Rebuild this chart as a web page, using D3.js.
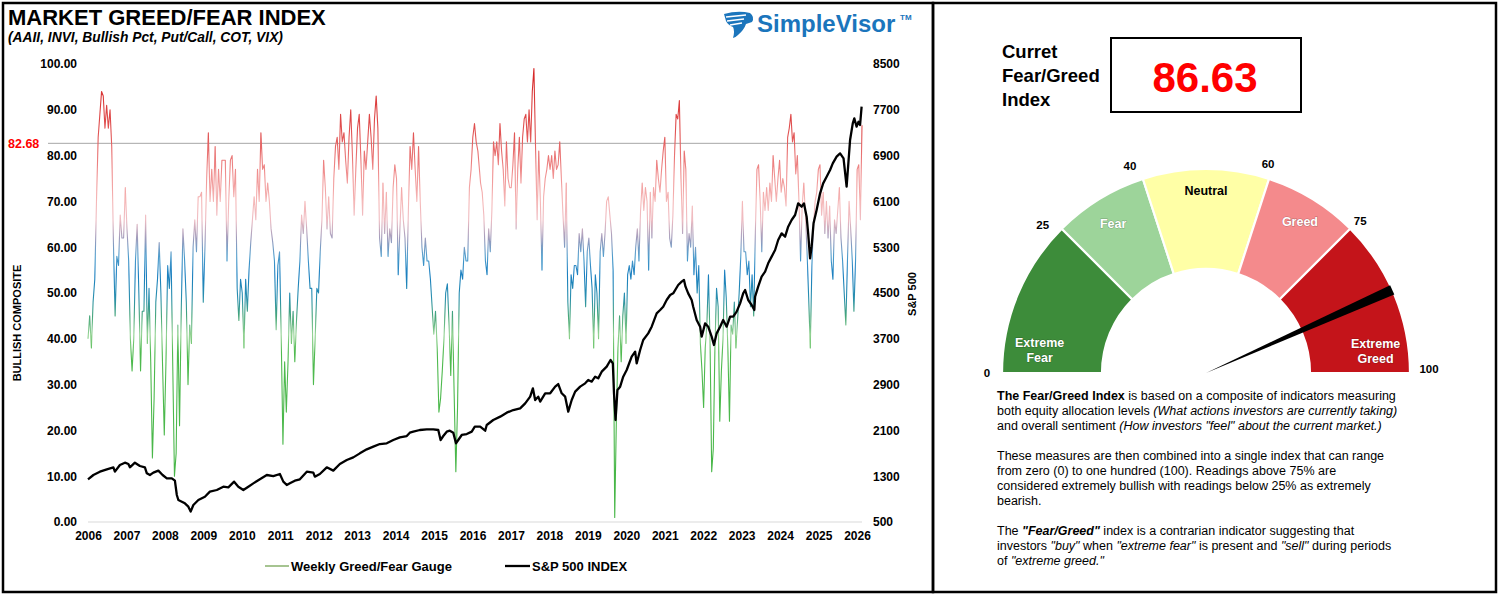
<!DOCTYPE html>
<html><head><meta charset="utf-8">
<script src="https://cdn.jsdelivr.net/npm/d3@7"></script>
<style>
html,body{margin:0;padding:0;background:#fff;}
svg{display:block;font-family:Arial,"Liberation Sans",sans-serif;}
</style></head><body>
<svg id="c" width="1499" height="599"></svg>
<script>
// ---------------- DATA ----------------
const yearLabels = [2006,2007,2008,2009,2010,2011,2012,2013,2014,2015,2016,2017,2018,2019,2020,2021,2022,2023,2024,2025,2026];
const leftTicks = [0,10,20,30,40,50,60,70,80,90,100];
const rightTicks = [500,1300,2100,2900,3700,4500,5300,6100,6900,7700,8500];

// Weekly Greed/Fear gauge readings (sampled), first half 2006 -> early 2016
const gaugeEarlyRange = [2006.0, 2016.14];
const gaugeEarly = [40,45,38,48,53,70,84,89,94,93,86,91,86,90,82,61,45,58,56,67,62,62,73,64,57,40,33,40,57,65,50,33,46,46,67,39,51,35,14,27,48,53,61,50,34,19,35,56,51,59,34,10,15,43,21,46,64,57,48,30,43,39,60,66,59,71,71,72,48,60,75,85,70,77,70,82,67,77,70,79,79,79,57,70,79,80,71,77,51,44,53,50,38,53,46,55,61,66,71,66,77,70,85,77,78,70,74,70,64,61,57,42,56,59,40,17,35,24,35,50,39,46,35,44,51,57,67,63,70,64,57,51,51,30,40,51,50,59,66,79,73,64,71,63,62,75,82,84,77,89,83,85,79,74,84,90,80,67,77,86,89,79,67,81,77,83,89,84,77,88,93,86,62,58,74,63,72,58,64,61,73,78,75,54,64,73,66,62,51,68,82,77,85,77,70,82,70,60,56,62,57,57,53,47,41,46,38,24,27,33,40,50,52,43,32,46,28,11,25,50,55,53,60,57,57,73,77,84,87,83,81];
// second half early 2016 -> 2026
const gaugeLateRange = [2016.21, 2026.13];
const gaugeLate = [74,72,67,57,54,64,59,68,83,80,83,78,87,81,77,69,83,75,73,73,78,85,64,77,84,74,84,88,89,83,90,83,94,99,82,66,81,70,55,71,75,77,80,77,80,75,81,77,78,83,75,67,60,74,48,40,54,51,56,56,54,63,59,64,57,47,59,62,56,51,38,54,50,40,59,63,58,63,70,71,67,63,55,1,22,38,45,35,45,50,39,54,56,53,57,54,60,64,57,68,74,68,73,70,55,72,62,73,70,79,75,72,77,81,84,70,72,62,60,67,80,89,88,92,75,63,81,77,57,63,60,69,54,60,50,56,39,33,25,38,43,54,39,11,16,38,51,47,22,33,40,55,49,38,22,43,41,48,38,44,50,58,70,59,59,54,57,47,54,45,63,77,78,70,59,72,68,73,68,74,70,80,75,70,75,79,72,75,73,69,84,86,89,83,85,76,80,70,57,69,74,67,59,49,38,56,65,70,72,77,78,67,72,63,70,62,69,57,53,66,63,68,73,62,57,50,43,57,70,64,57,46,57,77,78,66,86.63];

const spxDates = [2006.00,2006.14,2006.31,2006.49,2006.66,2006.70,2006.83,2006.96,2007.05,2007.09,2007.22,2007.35,2007.48,2007.53,2007.61,2007.70,2007.83,2007.94,2008.05,2008.18,2008.26,2008.31,2008.35,2008.44,2008.52,2008.61,2008.67,2008.74,2008.87,2009.04,2009.17,2009.35,2009.52,2009.65,2009.80,2009.91,2010.04,2010.17,2010.30,2010.47,2010.65,2010.82,2010.99,2011.08,2011.17,2011.25,2011.38,2011.51,2011.69,2011.86,2011.90,2012.03,2012.21,2012.38,2012.55,2012.73,2012.90,2013.07,2013.25,2013.42,2013.59,2013.77,2013.94,2014.11,2014.29,2014.37,2014.46,2014.63,2014.81,2014.98,2015.11,2015.17,2015.24,2015.33,2015.41,2015.50,2015.57,2015.63,2015.72,2015.85,2015.98,2016.06,2016.15,
2016.20,2016.33,2016.37,2016.54,2016.72,2016.89,2017.06,2017.24,2017.37,2017.50,2017.57,2017.63,2017.71,2017.76,2017.89,2018.02,2018.15,2018.23,2018.32,2018.41,2018.49,2018.58,2018.67,2018.80,2018.93,2019.01,2019.10,2019.19,2019.27,2019.36,2019.49,2019.59,2019.65,2019.68,2019.72,2019.77,2019.84,2019.92,2020.01,2020.14,2020.23,2020.27,2020.36,2020.44,2020.57,2020.66,2020.79,2020.88,2020.96,2021.05,2021.14,2021.22,2021.35,2021.44,2021.50,2021.54,2021.61,2021.70,2021.74,2021.83,2021.92,2021.96,2022.05,2022.13,2022.22,2022.28,2022.35,2022.44,2022.52,2022.61,2022.70,2022.78,2022.87,2022.96,2023.04,2023.09,2023.17,2023.26,2023.33,2023.35,2023.43,2023.52,2023.61,2023.69,2023.78,2023.87,2023.95,2024.04,2024.13,2024.21,2024.30,2024.39,2024.47,2024.56,2024.62,2024.69,2024.73,2024.78,2024.82,2024.87,2024.95,2025.04,2025.12,2025.21,2025.30,2025.37,2025.47,2025.56,2025.65,2025.73,2025.82,2025.89,2025.93,2025.99,2026.04,2026.08,2026.12];
const spxValues = [1245,1321,1379,1420,1455,1379,1496,1536,1513,1455,1536,1478,1455,1350,1321,1362,1397,1321,1263,1263,1222,972,884,855,826,768,681,797,884,942,1030,1059,1117,1106,1205,1117,1059,1117,1175,1245,1321,1303,1338,1205,1146,1175,1222,1245,1379,1362,1292,1338,1455,1397,1513,1583,1629,1699,1769,1816,1862,1874,1932,1979,2002,2060,2078,2107,2119,2119,2107,1932,2002,2078,2095,2060,1874,1932,2020,2037,2078,2165,2165,
2165,2095,2194,2282,2340,2410,2456,2485,2573,2689,2835,2631,2689,2602,2748,2748,2864,2910,2748,2689,2427,2631,2777,2864,2922,2980,2951,3038,3009,3126,3213,3330,3271,2748,2282,2806,2864,3038,3155,3388,3475,3271,3504,3679,3795,3912,4145,4203,4261,4378,4465,4494,4640,4698,4727,4611,4494,4378,4261,4028,3912,3737,3970,3912,3737,3592,3795,3912,4028,3912,4086,4086,4174,4319,4494,4552,4378,4290,4203,4436,4611,4785,4873,5018,5135,5251,5426,5542,5484,5658,5775,5862,6066,6008,6066,5833,5542,5105,5309,5717,5950,6241,6415,6532,6648,6765,6881,6939,6852,6357,7172,7463,7550,7405,7492,7434,7754];

const thresholdReading = 82.68;
const currentReading = 86.63;
const zoneBounds = [0,25,40,60,75,100];
const zoneNames = [["Extreme","Fear"],["Fear"],["Neutral"],["Greed"],["Extreme","Greed"]];

// ---------------- LAYOUT / STYLE ----------------
const svg = d3.select("#c");
const FONT = 'Arial,"Liberation Sans",sans-serif';

// panels
svg.append("rect").attr("x",3).attr("y",3).attr("width",930).attr("height",589)
  .attr("fill","none").attr("stroke","#000").attr("stroke-width",2.5);
svg.append("rect").attr("x",933).attr("y",3).attr("width",563).attr("height",589)
  .attr("fill","none").attr("stroke","#000").attr("stroke-width",2.5);

// title
svg.append("text").attr("x",8).attr("y",25).attr("font-size",22).attr("font-weight","bold")
  .text("MARKET GREED/FEAR INDEX");
svg.append("text").attr("x",8).attr("y",42).attr("font-size",13.8).attr("font-weight","bold")
  .attr("font-style","italic").text("(AAII, INVI, Bullish Pct, Put/Call, COT, VIX)");

// logo
const logo = svg.append("g");
logo.append("path").attr("fill","#1b75bc")
  .attr("d","M724,14 Q738,10 750,13 Q755,17 752,22 L746,24 Q744,30 738,35 Q735,38 733,38 Q735,31 733,27 Q728,25 726,21 Z");
[[726,17,746,15],[727,21,744,19],[730,25,742,23]].forEach(l=>{
  logo.append("line").attr("x1",l[0]).attr("y1",l[1]).attr("x2",l[2]).attr("y2",l[3])
    .attr("stroke","#fff").attr("stroke-width",1.3);
});
logo.append("text").attr("x",757).attr("y",32).attr("font-size",24).attr("font-weight","bold")
  .attr("fill","#1b75bc").text("SimpleVisor");
logo.append("text").attr("x",900).attr("y",20).attr("font-size",8).attr("font-weight","bold")
  .attr("fill","#1b75bc").text("TM");

// scales
const x = d3.scaleLinear().domain([2006,2026]).range([88,857]);
const y = d3.scaleLinear().domain([0,100]).range([522,64]);
const y2 = d3.scaleLinear().domain([500,8500]).range([522,64]);
const plotRight = x(2026.13);

// baseline
svg.append("line").attr("x1",88).attr("x2",plotRight).attr("y1",y(0)).attr("y2",y(0))
  .attr("stroke","#d9d9d9").attr("stroke-width",1.2);

// axes
function styleAxis(g){
  g.select(".domain").remove();
  g.selectAll("text").attr("font-family",FONT).attr("font-size",12).attr("font-weight","bold").attr("fill","#000");
}
svg.append("g").attr("transform","translate(88,0)")
  .call(d3.axisLeft(y).tickValues(leftTicks).tickFormat(d3.format(".2f")).tickSize(0).tickPadding(11))
  .call(styleAxis);
svg.append("g").attr("transform",`translate(${plotRight},0)`)
  .call(d3.axisRight(y2).tickValues(rightTicks).tickFormat(d3.format("d")).tickSize(0).tickPadding(11))
  .call(styleAxis);
svg.append("g").attr("transform","translate(0,531)")
  .call(d3.axisBottom(x).tickValues(yearLabels).tickFormat(d3.format("d")).tickSize(0).tickPadding(0))
  .call(styleAxis);

// axis titles
svg.append("text").attr("transform","translate(21,323) rotate(-90)").attr("text-anchor","middle")
  .attr("font-size",11).attr("font-weight","bold").text("BULLISH COMPOSITE");
svg.append("text").attr("transform","translate(916,294) rotate(-90)").attr("text-anchor","middle")
  .attr("font-size",11).attr("font-weight","bold").text("S&P 500");

// threshold line
svg.append("line").attr("x1",48).attr("x2",plotRight).attr("y1",y(thresholdReading)).attr("y2",y(thresholdReading))
  .attr("stroke","#a6a6a6").attr("stroke-width",1);
svg.append("text").attr("x",8).attr("y",y(thresholdReading)+4.5).attr("font-size",12.5)
  .attr("font-weight","bold").attr("fill","#ff0000").text(thresholdReading.toFixed(2));

// gradient for gauge line
const defs = svg.append("defs");
const grad = defs.append("linearGradient").attr("id","gfg").attr("gradientUnits","userSpaceOnUse")
  .attr("x1",0).attr("x2",0).attr("y1",y(0)).attr("y2",y(100));
[[0,"#45b545"],[37,"#4fba4f"],[41,"#93d293"],[45,"#45a57a"],[49,"#2a8fae"],[54,"#1a7fc0"],[58,"#4f9dcc"],
 [62,"#a19cbc"],[66,"#efbcc2"],[70,"#f5b8b8"],[76,"#f09090"],[84,"#e25858"],[100,"#d42020"]]
 .forEach(s=>grad.append("stop").attr("offset",s[0]/100).attr("stop-color",s[1]));

function spread(vals, range){
  const n = vals.length;
  return vals.map((v,i)=>({t: range[0] + (range[1]-range[0])*i/(n-1), v}));
}
const gaugeSeries = spread(gaugeEarly, gaugeEarlyRange).concat(spread(gaugeLate, gaugeLateRange));
const gLine = d3.line().x(d=>x(d.t)).y(d=>y(d.v));
svg.append("path").datum(gaugeSeries).attr("d",gLine).attr("fill","none")
  .attr("stroke","url(#gfg)").attr("stroke-width",1.1).attr("stroke-linejoin","round");

const spx = spxDates.map((t,i)=>({t, v: spxValues[i]}));
const sLine = d3.line().x(d=>x(d.t)).y(d=>y2(d.v));
svg.append("path").datum(spx).attr("d",sLine).attr("fill","none")
  .attr("stroke","#000").attr("stroke-width",2.3).attr("stroke-linejoin","round");

// legend
svg.append("line").attr("x1",265).attr("x2",289).attr("y1",566).attr("y2",566).attr("stroke","#76a456").attr("stroke-width",1.3);
svg.append("text").attr("x",291).attr("y",570.5).attr("font-size",13).attr("font-weight","bold").text("Weekly Greed/Fear Gauge");
svg.append("line").attr("x1",505).attr("x2",530).attr("y1",566).attr("y2",566).attr("stroke","#000").attr("stroke-width",2.3);
svg.append("text").attr("x",532).attr("y",570.5).attr("font-size",13).attr("font-weight","bold").text("S&P 500 INDEX");

// ---------------- RIGHT PANEL ----------------
["Curret","Fear/Greed","Index"].forEach((s,i)=>{
  svg.append("text").attr("x",1002).attr("y",57.5+i*24).attr("font-size",18.5).attr("font-weight","bold").text(s);
});
svg.append("rect").attr("x",1111).attr("y",38).attr("width",190).attr("height",74)
  .attr("fill","none").attr("stroke","#000").attr("stroke-width",2);
svg.append("text").attr("x",1205).attr("y",91.5).attr("text-anchor","middle").attr("font-size",42)
  .attr("font-weight","bold").attr("fill","#ff0000").text(currentReading.toFixed(2));

// gauge
const cx = 1206, cy = 373, rOut = 204, rIn = 104;
const ang = v => -Math.PI/2 + Math.PI*v/100;
const zoneColors = ["#3d8c3a","#9dd49a","#ffffa6","#f48a8c","#c4141a"];
const arc = d3.arc().innerRadius(rIn).outerRadius(rOut);
const gg = svg.append("g").attr("transform",`translate(${cx},${cy})`);
for(let i=0;i<5;i++){
  gg.append("path").attr("d",arc({startAngle:ang(zoneBounds[i]),endAngle:ang(zoneBounds[i+1])}))
    .attr("fill",zoneColors[i]).attr("stroke","#fff").attr("stroke-width",2.2);
}
// zone labels
const zoneLabelPos = [[4.4,168],[32.3,176],[50,183],[67.7,178],[95.9,171]];
const zoneLabelColor = ["#fff","#fff","#000","#fff","#fff"];
zoneNames.forEach((lines,i)=>{
  const a = ang(zoneLabelPos[i][0]), r = zoneLabelPos[i][1];
  const px = r*Math.sin(a), py = -r*Math.cos(a);
  lines.forEach((s,j)=>{
    gg.append("text").attr("x",px).attr("y",py + (j - (lines.length-1)/2)*15 + 4.5)
      .attr("text-anchor","middle").attr("font-size",12.5).attr("font-weight","bold")
      .attr("fill",zoneLabelColor[i])
      .style("paint-order","stroke").attr("stroke", i===2 ? "none" : "rgba(0,0,0,0.25)").attr("stroke-width",1)
      .text(s);
  });
});
// bound labels
const boundOffsets = {0:[-15,4],25:[-19,0],40:[-13,-9],60:[-1,-11],75:[10,-4],100:[19,0]};
zoneBounds.forEach(v=>{
  const a = ang(v);
  const px = rOut*Math.sin(a) + boundOffsets[v][0], py = -rOut*Math.cos(a) + boundOffsets[v][1];
  gg.append("text").attr("x",px).attr("y",py).attr("text-anchor","middle")
    .attr("font-size",11.5).attr("font-weight","bold").text(v);
});
// needle
{
  const a = ang(currentReading), w = 0.025;
  const p1 = [rOut*Math.sin(a-w), -rOut*Math.cos(a-w)];
  const p2 = [rOut*Math.sin(a+w), -rOut*Math.cos(a+w)];
  gg.append("path").attr("d",`M0,0 L${p1[0]},${p1[1]} L${p2[0]},${p2[1]} Z`).attr("fill","#000");
}

// description
const para = [
  [["b","The Fear/Greed Index"],["n"," is based on a composite of indicators measuring"]],
  [["n","both equity allocation levels "],["i","(What actions investors are currently taking)"]],
  [["n","and overall sentiment "],["i","(How investors \"feel\" about the current market.)"]],
  null,
  [["n","These measures are then combined into a single index that can range"]],
  [["n","from zero (0) to one hundred (100). Readings above 75% are"]],
  [["n","considered extremely bullish with readings below 25% as extremely"]],
  [["n","bearish."]],
  null,
  [["n","The "],["bi","\"Fear/Greed\""],["n"," index is a contrarian indicator suggesting that"]],
  [["n","investors "],["i","\"buy\""],["n"," when "],["i","\"extreme fear\""],["n"," is present and "],["i","\"sell\""],["n"," during periods"]],
  [["n","of "],["i","\"extreme greed.\""]]
];
para.forEach((line,i)=>{
  if(!line) return;
  const t = svg.append("text").attr("x",997).attr("y",399.5 + i*15).attr("font-size",12.5);
  line.forEach(seg=>{
    const ts = t.append("tspan").text(seg[1]);
    if(seg[0].includes("b")) ts.attr("font-weight","bold");
    if(seg[0].includes("i")) ts.attr("font-style","italic");
  });
});
</script>
</body></html>
